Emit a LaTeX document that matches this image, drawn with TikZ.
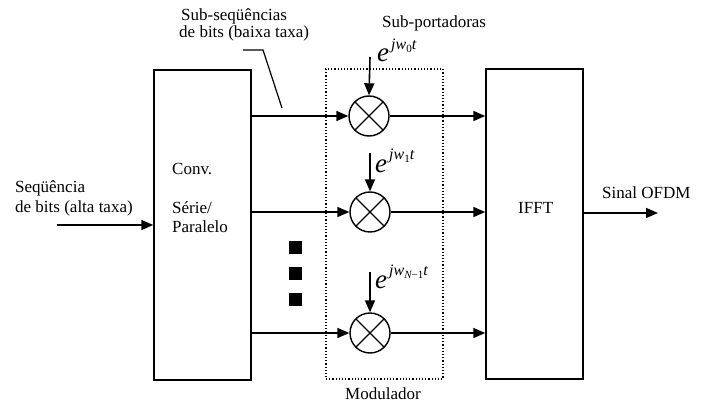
\documentclass[tikz,border=0pt]{standalone}
\usepackage{fontspec}
\setmainfont{Liberation Serif}
\usetikzlibrary{arrows.meta}
\newcommand\myexpo[1]{{\fontsize{27}{27}\selectfont\itshape e}\hspace{2pt}\raisebox{13pt}{\fontsize{16}{16}\selectfont\itshape jw\raisebox{-3.5pt}{\fontsize{11}{11}\selectfont #1}t}}
\tikzset{
  box/.style={draw, line width=1.5pt, rectangle, inner sep=0pt},
  modbox/.style={draw, line width=1.2pt, dotted, rectangle, inner sep=0pt},
  mult/.style={draw, circle, line width=1.4pt, minimum size=40pt, inner sep=0pt,
    path picture={\draw[line width=1.4pt] (path picture bounding box.north west) -- (path picture bounding box.south east)
      (path picture bounding box.north east) -- (path picture bounding box.south west);}},
  arr/.style={line width=1.6pt, -{Triangle[length=12pt,width=10pt]}},
  txt/.style={inner sep=0pt, anchor=base west, font=\fontsize{17}{19}\selectfont},
  expo/.style={inner sep=0pt, anchor=base west},
  dot/.style={fill=black, inner sep=0pt, minimum size=13pt, rectangle}
}
\begin{document}
\begin{tikzpicture}[x=1pt,y=-1pt]
\useasboundingbox (0,0) rectangle (704,404);
% boxes
\node[box, minimum width=97pt, minimum height=310pt] (conv) at (202.5,225) {};
\node[modbox, minimum width=117pt, minimum height=310pt] (mod) at (384.5,224) {};
\node[box, minimum width=97pt, minimum height=310pt] (ifft) at (534.5,224) {};
% multipliers
\node[mult] (c1) at (369,116) {};
\node[mult] (c2) at (370,212) {};
\node[mult] (c3) at (370,333) {};
% branch lines
\draw[arr] (conv.east |- c1) -- (c1);
\draw[arr] (conv.east |- c2) -- (c2);
\draw[arr] (conv.east |- c3) -- (c3);
\draw[arr] (c1) -- (ifft.west |- c1);
\draw[arr] (c2) -- (ifft.west |- c2);
\draw[arr] (c3) -- (ifft.west |- c3);
% carrier exponents
\coordinate (e1top) at (370,57);
\coordinate (e2top) at (370,153);
\coordinate (e3top) at (370,272);
\draw[arr] (e1top) -- (c1.north);
\draw[arr] (e2top) -- (c2.north);
\draw[arr] (e3top) -- (c3.north);
\node[expo] (x1) at (377,62) {\myexpo{\upshape 0}};
\node[expo] (x2) at (375,172) {\myexpo{\upshape 1}};
\node[expo] (x3) at (375,288) {\myexpo{\itshape N\upshape −1}};
% ellipsis squares
\node[dot] (d1) at (295,247) {};
\node[dot] (d2) at (295,273.5) {};
\node[dot] (d3) at (295,299.5) {};
% input / output
\coordinate (inst) at (57,225);
\draw[arr] (inst) -- (inst -| conv.west);
\coordinate (outend) at (658,213);
\draw[arr] (outend -| ifft.east) -- (outend);
% labels
\node[txt] (t1) at (15,192) {Seqüência};
\node[txt] (t2) at (15,212) {de bits (alta taxa)};
\node[txt] (cv1) at (172,174) {Conv.};
\node[txt] (cv2) at (172,213) {Série/};
\node[txt] (cv3) at (172,232) {Paralelo};
\node[txt] (s1) at (181,21) {Sub-seqüências};
\node[txt] (s2) at (179,38) {de bits (baixa taxa)};
\node[txt] (sp) at (382,28) {Sub-portadoras};
\node[txt] (ift) at (518,213) {IFFT};
\node[txt] (so) at (602,198) {Sinal OFDM};
\node[txt] (md) at (345,399) {Modulador};
% leader line
\coordinate (l1) at (243,50);
\coordinate (l2) at (263,50);
\coordinate (l3) at (282,108);
\draw[line width=1.2pt] (l1) -- (l2) -- (l3);
\end{tikzpicture}
\end{document}
